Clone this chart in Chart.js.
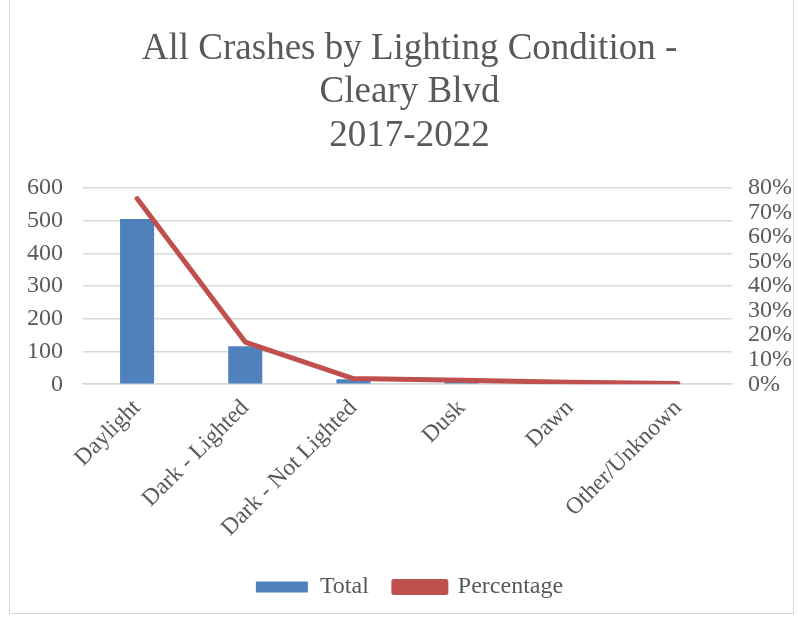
<!DOCTYPE html>
<html>
<head>
<meta charset="utf-8">
<script src="https://cdn.jsdelivr.net/npm/chart.js@4"></script>
<style>
  html, body { margin: 0; padding: 0; background: #fff; }
  #wrap { position: relative; width: 797px; height: 617px; }
  #frame { position: absolute; left: 9px; top: -2px; width: 785px; height: 616px; border: 1px solid #d9d9d9; box-sizing: border-box; }
</style>
</head>
<body>
<div id="wrap">
  <div id="frame"></div>
  <canvas id="crashChart" width="797" height="617"></canvas>
</div>
<script>
// lighting conditions and values
const categories = ['Daylight', 'Dark - Lighted', 'Dark - Not Lighted', 'Dusk', 'Dawn', 'Other/Unknown'];
const totals = [505, 116, 15, 10, 5, 2];
const percentages = [0.757, 0.172, 0.023, 0.016, 0.008, 0.003];
const leftTicks = [0, 100, 200, 300, 400, 500, 600];
const rightTicks = [0, 0.1, 0.2, 0.3, 0.4, 0.5, 0.6, 0.7, 0.8];

const textColor = '#595959';
const serif = "'Liberation Serif', 'Times New Roman', serif";

const ctx = document.getElementById('crashChart').getContext('2d');

const crashChart = new Chart(ctx, {
  type: 'bar',
  data: {
    labels: categories,
    datasets: [
      {
        type: 'line',
        label: 'Percentage',
        data: percentages,
        yAxisID: 'yPct',
        borderColor: '#C0504D',
        backgroundColor: '#C0504D',
        borderWidth: 5,
        borderCapStyle: 'round',
        borderJoinStyle: 'round',
        pointRadius: 0,
        tension: 0,
        order: 0
      },
      {
        label: 'Total',
        data: totals,
        yAxisID: 'y',
        backgroundColor: '#4F81BD',
        borderWidth: 0,
        categoryPercentage: 1,
        barPercentage: 0.315,
        order: 1
      }
    ]
  },
  options: {
    responsive: false,
    animation: false,
    layout: { padding: { left: 27, right: 5, top: 27, bottom: 8 } },
    plugins: {
      title: {
        display: true,
        text: ['All Crashes by Lighting Condition -', 'Cleary Blvd', '2017-2022'],
        color: textColor,
        font: { family: serif, size: 37, weight: 'normal', lineHeight: 1.18 },
        padding: { top: 0, bottom: 30 }
      },
      legend: {
        position: 'bottom',
        reverse: true,
        labels: {
          color: textColor,
          font: { family: serif, size: 24 },
          boxWidth: 52,
          boxHeight: 11,
          padding: 25
        }
      },
      tooltip: { enabled: false }
    },
    scales: {
      x: {
        grid: { display: false },
        border: { color: '#d9d9d9', width: 1.5 },
        ticks: {
          color: textColor,
          font: { family: serif, size: 23.5 },
          minRotation: 45,
          maxRotation: 45,
          padding: 2
        },
        // rotated labels should not push the plot area inwards
        afterFit: scale => {
          scale.paddingLeft = 0;
          scale.paddingRight = 0;
          scale.height += 6;
        }
      },
      y: {
        position: 'left',
        min: 0,
        max: 600,
        afterBuildTicks: axis => { axis.ticks = leftTicks.map(v => ({ value: v })); },
        afterFit: scale => { scale.width -= 20; },
        grid: { color: '#d9d9d9', lineWidth: 1.5, drawTicks: false },
        border: { display: false },
        ticks: {
          color: textColor,
          font: { family: serif, size: 24, lineHeight: 1 },
          padding: 20,
          autoSkip: false
        }
      },
      yPct: {
        position: 'right',
        min: 0,
        max: 0.8,
        afterBuildTicks: axis => { axis.ticks = rightTicks.map(v => ({ value: v })); },
        afterFit: scale => { scale.width -= 16; },
        grid: { display: false, drawTicks: false },
        border: { display: false },
        ticks: {
          color: textColor,
          font: { family: serif, size: 24, lineHeight: 1 },
          padding: 16,
          autoSkip: false,
          callback: v => Math.round(v * 100) + '%'
        }
      }
    }
  }
});
</script>
</body>
</html>
